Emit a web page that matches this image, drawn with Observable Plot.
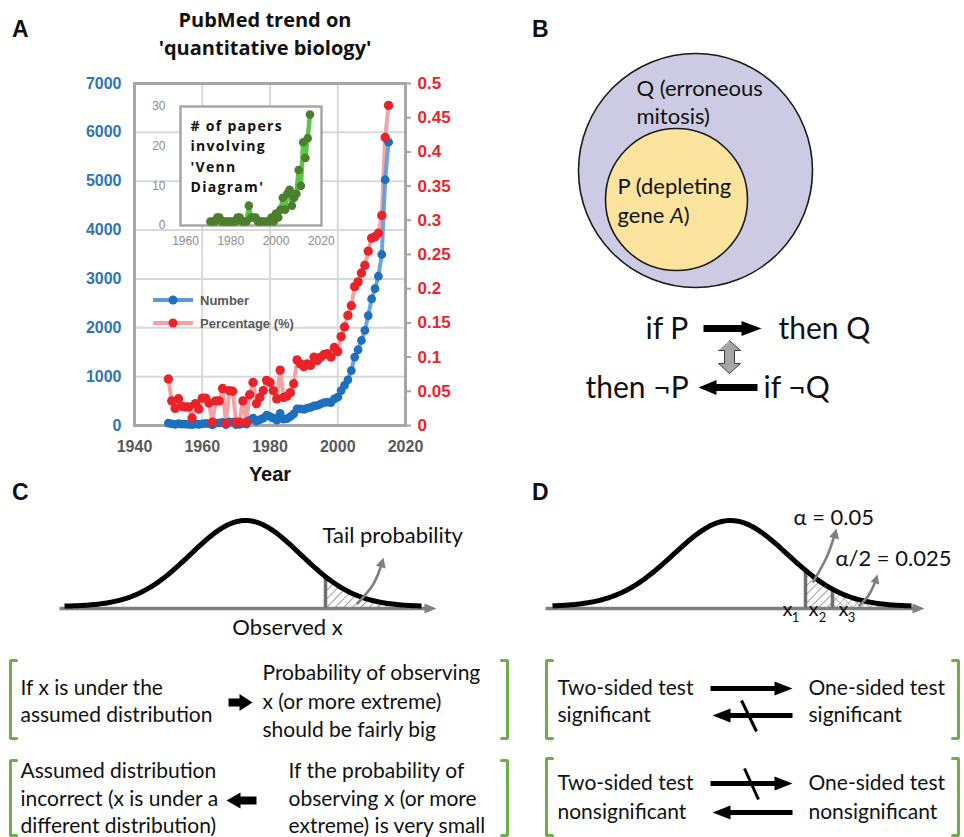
<!DOCTYPE html>
<html><head><meta charset="utf-8">
<script src="https://cdn.jsdelivr.net/npm/d3@7"></script>
<script src="https://cdn.jsdelivr.net/npm/@observablehq/plot@0.6"></script>
<style>
body{margin:0;background:#fff;}
#fig{position:relative;width:964px;height:837px;overflow:hidden;}
#fig > *{position:absolute;}
.letter{font-family:"Liberation Sans",Arial,sans-serif;font-weight:bold;font-size:23px;line-height:23px;color:#111;}
.title{font-family:"Open Sans",sans-serif;font-weight:700;font-size:20px;text-align:center;width:320px;line-height:28px;color:#111;}
.legend{font-family:"Liberation Sans",Arial,sans-serif;font-weight:bold;font-size:13px;color:#595959;display:flex;align-items:center;height:16px;}
.legend svg{margin-right:7px;}
</style></head><body><div id="fig"></div>
<script>
// ---------- Panel A data ----------
const years = [1950,1951,1952,1953,1954,1955,1956,1957,1958,1959,1960,1961,1962,1963,1964,1965,1966,1967,1968,1969,
  1970,1971,1972,1973,1974,1975,1976,1977,1978,1979,1980,1981,1982,1983,1984,1985,1986,1987,1988,1989,
  1990,1991,1992,1993,1994,1995,1996,1997,1998,1999,2000,2001,2002,2003,2004,2005,2006,2007,2008,2009,
  2010,2011,2012,2013,2014,2015];
const numberPapers = [50,35,25,40,30,30,25,20,30,25,35,45,40,15,50,55,65,20,75,70,
  20,25,45,30,110,150,90,120,150,210,180,150,110,250,130,140,180,240,340,340,
  330,355,370,400,410,440,470,480,470,545,580,715,820,935,1125,1400,1550,1740,1945,2250,
  2590,2800,3055,3500,5030,5800];
const percentPapers = [0.068,0.036,0.025,0.039,0.028,0.027,0.027,0.011,0.032,0.024,0.040,0.040,0.033,0.005,0.036,0.036,0.054,0.003,0.051,0.050,
  0.005,0.005,0.036,0.005,0.045,0.063,0.032,0.041,0.051,0.066,0.063,0.051,0.039,0.081,0.041,0.043,0.048,0.061,0.096,0.090,
  0.086,0.090,0.088,0.100,0.095,0.100,0.104,0.105,0.100,0.114,0.108,0.130,0.144,0.161,0.175,0.203,0.210,0.223,0.234,0.255,
  0.274,0.276,0.281,0.307,0.421,0.468];
const vennYears = [1971,1972,1973,1974,1975,1976,1977,1978,1979,1980,1981,1982,1983,1984,1985,1986,1987,1988,1989,1990,
  1991,1992,1993,1994,1995,1996,1997,1998,1999,2000,2001,2002,2003,2004,2005,2006,2007,2008,2009,2010,
  2011,2012,2013,2014,2015];
const vennCounts = [1,1,1,2,2,1,1,1,1,1,1,1,2,2,1,1,1,5,2,2,
  2,1,1,1,1,1,1,2,1,3,2,4,7,4,8,9,5,7,8,14,
  10,21,17,22,28];
const leftTicks = [0,1000,2000,3000,4000,5000,6000,7000];
const rightTicks = [0,0.05,0.1,0.15,0.2,0.25,0.3,0.35,0.4,0.45,0.5];
const yearTicks = [1940,1960,1980,2000,2020];
const gridYears = [1960,1980,2000];
const insetXTicks = [1960,1980,2000,2020];
const insetYTicks = [0,10,20,30];
const seriesNames = ["Number","Percentage (%)"];
const seriesColors = {line: ["#5b9bd5","#f3a3a6"], dot: ["#1f6fbf","#e8232a"]};
const titleLines = ["PubMed trend on","'quantitative biology'"];
const insetLines = ["# of papers","involving","'Venn","Diagram'"];
const panelLetters = ["A","B","C","D"];

// ---------- Text of panels B, C, D ----------
const vennLabels = ["Q (erroneous","mitosis)","P (depleting","gene A)"];
const logicLabels = ["if P","then Q","then ¬P","if ¬Q"];
const tailLabels = ["Tail probability","Observed x"];
const alphaLabels = ["α = 0.05","α/2 = 0.025"];
const cutLabels = ["x","x","x"], cutSubs = ["1","2","3"];
const blockC = [["If x is under the","assumed distribution"],["Probability of observing","x (or more extreme)","should be fairly big"],
  ["Assumed distribution","incorrect (x is under a","different distribution)"],["If the probability of","observing x (or more","extreme) is very small"]];
const blockD = [["Two-sided test","significant"],["One-sided test","significant"],["Two-sided test","nonsignificant"],["One-sided test","nonsignificant"]];

const fig = document.getElementById("fig");
const pctScale = 7000 / 0.5;
const rows = years.map((year, i) => ({year, number: numberPapers[i], pct: percentPapers[i]}));
const venn = vennYears.map((year, i) => ({year, count: vennCounts[i]}));
const axisFont = "'Liberation Sans', Arial, sans-serif";
const diaFont = "Lato, 'Open Sans', sans-serif";

// ---------- Panel A : main chart ----------
const mainChart = Plot.plot({
  width: 480, height: 500,
  marginLeft: 134, marginRight: 75, marginTop: 83, marginBottom: 75,
  x: {domain: [1940, 2020]},
  y: {domain: [0, 7000]},
  style: {background: "transparent", fontFamily: axisFont, overflow: "visible"},
  marks: [
    Plot.gridX(gridYears, {stroke: "#d9d9d9", strokeOpacity: 1, strokeWidth: 2}),
    Plot.gridY(leftTicks.slice(1, -1), {stroke: "#d9d9d9", strokeOpacity: 1, strokeWidth: 2}),
    Plot.axisY(leftTicks, {anchor: "left", tickSize: 0, tickPadding: 13, tickFormat: d => String(d), fill: "#2e75b6", fontSize: 16, fontWeight: "bold", label: null}),
    Plot.axisY(rightTicks.map(v => v * pctScale), {anchor: "right", tickSize: 5, tickPadding: 7, stroke: "#a6a6a6", strokeWidth: 2,
      tickFormat: d => String(+(d / pctScale).toFixed(2)), fill: "#e8262a", fontSize: 17, fontWeight: "bold", label: null}),
    Plot.axisX(yearTicks, {tickSize: 0, tickPadding: 15, tickFormat: d => String(d), fill: "#595959", fontSize: 16, fontWeight: "bold", label: null}),
    Plot.frame({stroke: "#a6a6a6", strokeWidth: 3}),
    Plot.text(["Year"], {text: d => d, frameAnchor: "bottom", dy: 55, fontSize: 20, fontWeight: "bold", fill: "#111"}),
    Plot.line(rows, {x: "year", y: d => d.pct * pctScale, stroke: seriesColors.line[1], strokeWidth: 4}),
    Plot.line(rows, {x: "year", y: "number", stroke: seriesColors.line[0], strokeWidth: 4, strokeOpacity: 0.9}),
    Plot.dot(rows, {x: "year", y: "number", fill: seriesColors.dot[0], r: 4.4}),
    Plot.dot(rows, {x: "year", y: d => d.pct * pctScale, fill: seriesColors.dot[1], r: 4.7})
  ]
});

// ---------- Panel A : inset ----------
const insetChart = Plot.plot({
  width: 200, height: 165,
  marginLeft: 50, marginRight: 9, marginTop: 16, marginBottom: 30,
  x: {domain: [1957.8, 2020.1]},
  y: {domain: [0, 30]},
  style: {background: "transparent", fontFamily: axisFont, overflow: "visible"},
  marks: [
    Plot.frame({fill: "white", stroke: "#a6a6a6", strokeWidth: 2.5}),
    Plot.axisY(insetYTicks, {tickSize: 0, tickPadding: 15, fill: "#8c8c8c", fontSize: 12, label: null, tickFormat: d => String(d)}),
    Plot.axisX(insetXTicks, {tickSize: 0, tickPadding: 11, fill: "#8c8c8c", fontSize: 12, label: null, tickFormat: d => String(d)}),
    Plot.line(venn, {x: "year", y: "count", stroke: "#5cc447", strokeWidth: 4.5}),
    Plot.dot(venn, {x: "year", y: "count", fill: "#4b7f2c", r: 4.3}),
    ...insetLines.map((t, i) => Plot.text([t], {text: d => d, frameAnchor: "top-left", dx: 10, dy: 20 + i * 20.3,
      lineAnchor: "middle", textAnchor: "start", fontSize: 14, fontWeight: "bold", fontFamily: "'Open Sans', sans-serif", fill: "#111"}))
  ]
});
insetChart.querySelectorAll("text").forEach(t => { if (insetLines.includes(t.textContent)) t.style.letterSpacing = "1.3px"; });

// ---------- Panels B, C, D : diagram drawn with Plot on a pixel frame ----------
function arrowPoly(id, x1, y1, x2, y2, shaft, headLen, headW) {
  const dx = x2 - x1, dy = y2 - y1, L = Math.hypot(dx, dy), ux = dx / L, uy = dy / L, px = -uy, py = ux;
  const bx = x2 - ux * headLen, by = y2 - uy * headLen;
  return [[x1 + px * shaft / 2, y1 + py * shaft / 2], [bx + px * shaft / 2, by + py * shaft / 2], [bx + px * headW / 2, by + py * headW / 2],
    [x2, y2], [bx - px * headW / 2, by - py * headW / 2], [bx - px * shaft / 2, by - py * shaft / 2], [x1 - px * shaft / 2, y1 - py * shaft / 2]]
    .map(([x, y]) => ({id, x, y}));
}
function headPoly(id, x0, y0, x1, y1, len, w) {
  const dx = x1 - x0, dy = y1 - y0, L = Math.hypot(dx, dy), ux = dx / L, uy = dy / L, px = -uy, py = ux;
  const bx = x1 - ux * len, by = y1 - uy * len;
  return [[x1, y1], [bx + px * w / 2, by + py * w / 2], [bx - px * w / 2, by - py * w / 2]].map(([x, y]) => ({id, x, y}));
}
function bracket(id, x, y1, y2, dir) {
  return [[x + dir * 6, y1], [x, y1], [x, y2], [x + dir * 6, y2]].map(([x, y]) => ({id, x, y}));
}
const bell = (c, base, amp, s) => x => base - amp * Math.exp(-0.5 * ((x - c) / s) ** 2);
const curveC = bell(245, 606, 86, 55), curveD = bell(730, 606, 86, 57);
const sample = (f, a, b, n = 160) => d3.range(n + 1).map(i => { const x = a + (b - a) * i / n; return {x, y: f(x)}; });

const blackPolys = [
  ...arrowPoly("b1", 703, 328, 761, 328, 7, 20, 15),
  ...arrowPoly("b2", 757, 387, 698, 387, 7, 18, 15),
  ...arrowPoly("c1", 228, 702, 252, 702, 8, 13, 17),
  ...arrowPoly("c2", 256, 800, 226, 800, 8, 14, 16),
  ...arrowPoly("d1", 710, 688, 792, 688, 5, 18, 14),
  ...arrowPoly("d2", 792, 715, 712, 715, 5, 18, 14),
  ...arrowPoly("d3", 710, 783, 792, 783, 5, 18, 14),
  ...arrowPoly("d4", 792, 812, 712, 812, 5, 18, 14)
];
const grayPolys = [
  ...arrowPoly("ca", 59, 608, 436, 608, 3.5, 12, 10),
  ...arrowPoly("da", 545, 608, 924, 608, 3.5, 12, 10),
  ...headPoly("ch", 380, 568, 383, 557, 10, 10),
  ...headPoly("dh1", 833, 540, 836, 528, 10, 10),
  ...headPoly("dh2", 874, 584, 877, 574, 9, 9)
];
const grayPaths = [
  ...[[357, 603], [372, 585], [380, 567]].map(([x, y]) => ({id: "c", x, y})),
  ...[[813, 581], [826, 557], [833, 538]].map(([x, y]) => ({id: "d1", x, y})),
  ...[[859, 605], [868, 595], [874, 583]].map(([x, y]) => ({id: "d2", x, y}))
];
const doubleArrow = [[729, 340], [740, 350], [734, 350], [734, 363], [740, 363], [729, 373], [718, 363], [724, 363], [724, 350], [718, 350]]
  .map(([x, y]) => ({id: "dbl", x, y}));
const brackets = [
  ...bracket("l1", 10, 660, 738, 1), ...bracket("r1", 507, 660, 738, -1),
  ...bracket("l2", 10, 760, 835, 1), ...bracket("r2", 507, 760, 835, -1),
  ...bracket("l3", 546, 660, 738, 1), ...bracket("r3", 958, 660, 738, -1),
  ...bracket("l4", 546, 758, 835, 1), ...bracket("r4", 958, 758, 835, -1)
];
const slashes = [{x1: 741, y1: 700, x2: 756, y2: 731}, {x1: 744, y1: 768, x2: 758, y2: 799}];
const cuts = [{x: 325, f: curveC}, {x: 805, f: curveD}, {x: 832, f: curveD}].map(d => ({x: d.x, y1: 607, y2: d.f(d.x)}));

const fs = 21;
const labels = [
  {t: vennLabels[0], x: 636, y: 88, s: 22}, {t: vennLabels[1], x: 636, y: 116, s: 22},
  {t: vennLabels[2], x: 617, y: 186, s: 22}, {t: vennLabels[3], x: 617, y: 215, s: 22},
  {t: logicLabels[0], x: 645, y: 329, s: 30}, {t: logicLabels[1], x: 778, y: 329, s: 30},
  {t: logicLabels[2], x: 585, y: 388, s: 30}, {t: logicLabels[3], x: 763, y: 388, s: 30},
  {t: tailLabels[0], x: 322, y: 535, s: 22}, {t: tailLabels[1], x: 287, y: 627, s: 22, a: "middle"},
  {t: alphaLabels[0], x: 793, y: 517, s: 22}, {t: alphaLabels[1], x: 835, y: 558, s: 22},
  ...cutLabels.map((t, i) => ({t, x: [787, 813, 843][i], y: 609, s: 20, a: "middle"})),
  ...cutSubs.map((t, i) => ({t, x: [795, 822, 851][i], y: 617, s: 13, a: "middle"})),
  ...blockC[0].map((t, i) => ({t, x: 20, y: 688 + i * 27, s: fs})),
  ...blockC[1].map((t, i) => ({t, x: 262, y: 673 + i * 28.5, s: fs})),
  ...blockC[2].map((t, i) => ({t, x: 20, y: 771 + i * 27.5, s: fs})),
  ...blockC[3].map((t, i) => ({t, x: 288, y: 771 + i * 27.5, s: fs})),
  ...blockD[0].map((t, i) => ({t, x: 557, y: 688 + i * 27, s: fs})),
  ...blockD[1].map((t, i) => ({t, x: 808, y: 688 + i * 27, s: fs})),
  ...blockD[2].map((t, i) => ({t, x: 557, y: 783 + i * 29, s: fs})),
  ...blockD[3].map((t, i) => ({t, x: 808, y: 783 + i * 29, s: fs}))
];

const diagram = Plot.plot({
  width: 964, height: 837, margin: 0,
  x: {domain: [0, 964], range: [0, 964], axis: null},
  y: {domain: [0, 837], range: [0, 837], axis: null},
  style: {background: "transparent", fontFamily: diaFont, overflow: "visible"},
  marks: [
    Plot.dot([{x: 695, y: 170}], {x: "x", y: "y", r: 117, fill: "#cdcbe4", stroke: "#1a1a1a", strokeWidth: 1.6}),
    Plot.dot([{x: 676, y: 199}], {x: "x", y: "y", r: 71, fill: "#fce49f", stroke: "#1a1a1a", strokeWidth: 1.6}),
    Plot.areaY(sample(curveC, 325, 412, 60), {x: "x", y1: () => 607, y2: "y", fill: "url(#hatchA)"}),
    Plot.areaY(sample(curveD, 805, 832, 20), {x: "x", y1: () => 607, y2: "y", fill: "url(#hatchA)"}),
    Plot.areaY(sample(curveD, 832, 890, 40), {x: "x", y1: () => 607, y2: "y", fill: "url(#hatchX)"}),
    Plot.line(grayPolys, {x: "x", y: "y", z: "id", fill: "#7f7f7f", stroke: "none"}),
    Plot.link(cuts, {x1: "x", x2: "x", y1: "y1", y2: "y2", stroke: "#6f6f6f", strokeWidth: 3.5}),
    Plot.line(sample(curveC, 64, 421), {x: "x", y: "y", stroke: "#000", strokeWidth: 5, strokeLinecap: "butt"}),
    Plot.line(sample(curveD, 552, 911), {x: "x", y: "y", stroke: "#000", strokeWidth: 5, strokeLinecap: "butt"}),
    Plot.line(grayPaths, {x: "x", y: "y", z: "id", curve: "natural", stroke: "#7f7f7f", strokeWidth: 2.6}),
    Plot.line(blackPolys, {x: "x", y: "y", z: "id", fill: "#000", stroke: "none"}),
    Plot.line(doubleArrow, {x: "x", y: "y", z: "id", fill: "#a6a6a6", stroke: "#3a3a3a", strokeWidth: 1}),
    Plot.link(slashes, {x1: "x1", y1: "y1", x2: "x2", y2: "y2", stroke: "#000", strokeWidth: 3}),
    Plot.line(brackets, {x: "x", y: "y", z: "id", stroke: "#70ad47", strokeWidth: 3, strokeLinejoin: "miter"}),
    ...labels.map(l => Plot.text([l], {x: "x", y: "y", text: "t", fontSize: l.s, textAnchor: l.a || "start", fill: "#111", fontFamily: diaFont}))
  ]
});
const ns = "http://www.w3.org/2000/svg";
const defs = document.createElementNS(ns, "defs");
defs.innerHTML = `<pattern id="hatchA" width="6" height="6" patternUnits="userSpaceOnUse" patternTransform="rotate(45)"><line x1="0" y1="0" x2="0" y2="6" stroke="#8c8c8c" stroke-width="1.7"/></pattern>
<pattern id="hatchX" width="6" height="6" patternUnits="userSpaceOnUse" patternTransform="rotate(45)"><line x1="0" y1="0" x2="0" y2="6" stroke="#9a9a9a" stroke-width="1.4"/><line x1="0" y1="0" x2="6" y2="0" stroke="#9a9a9a" stroke-width="1.4"/></pattern>`;
diagram.insertBefore(defs, diagram.firstChild);
// italic gene name
diagram.querySelectorAll("text").forEach(t => {
  if (t.textContent === "gene A)") {
    t.textContent = "gene ";
    const it = document.createElementNS(ns, "tspan"); it.setAttribute("font-style", "italic"); it.textContent = "A";
    t.appendChild(it); t.appendChild(document.createTextNode(")"));
  }
});

diagram.style.left = "0px"; diagram.style.top = "0px";
mainChart.style.left = "0px"; mainChart.style.top = "0px";
insetChart.style.left = "130px"; insetChart.style.top = "90px";
fig.appendChild(diagram);
fig.appendChild(mainChart);
fig.appendChild(insetChart);

// title, letters and legend
const title = document.createElement("div");
title.className = "title"; title.style.left = "105px"; title.style.top = "6px";
title.innerHTML = titleLines.join("<br>");
fig.appendChild(title);
[[12, 18], [532, 18], [12, 481], [532, 481]].forEach(([x, y], i) => {
  const d = document.createElement("div"); d.className = "letter"; d.style.left = x + "px"; d.style.top = y + "px";
  d.textContent = panelLetters[i]; fig.appendChild(d);
});
seriesNames.forEach((name, i) => {
  const d = document.createElement("div"); d.className = "legend";
  d.style.left = "153px"; d.style.top = (292 + i * 23) + "px";
  d.innerHTML = `<svg width="40" height="16"><line x1="0" y1="8" x2="40" y2="8" stroke="${seriesColors.line[i]}" stroke-width="4"/><circle cx="20" cy="8" r="4.5" fill="${seriesColors.dot[i]}"/></svg><span>${name}</span>`;
  fig.appendChild(d);
});
</script></body></html>
